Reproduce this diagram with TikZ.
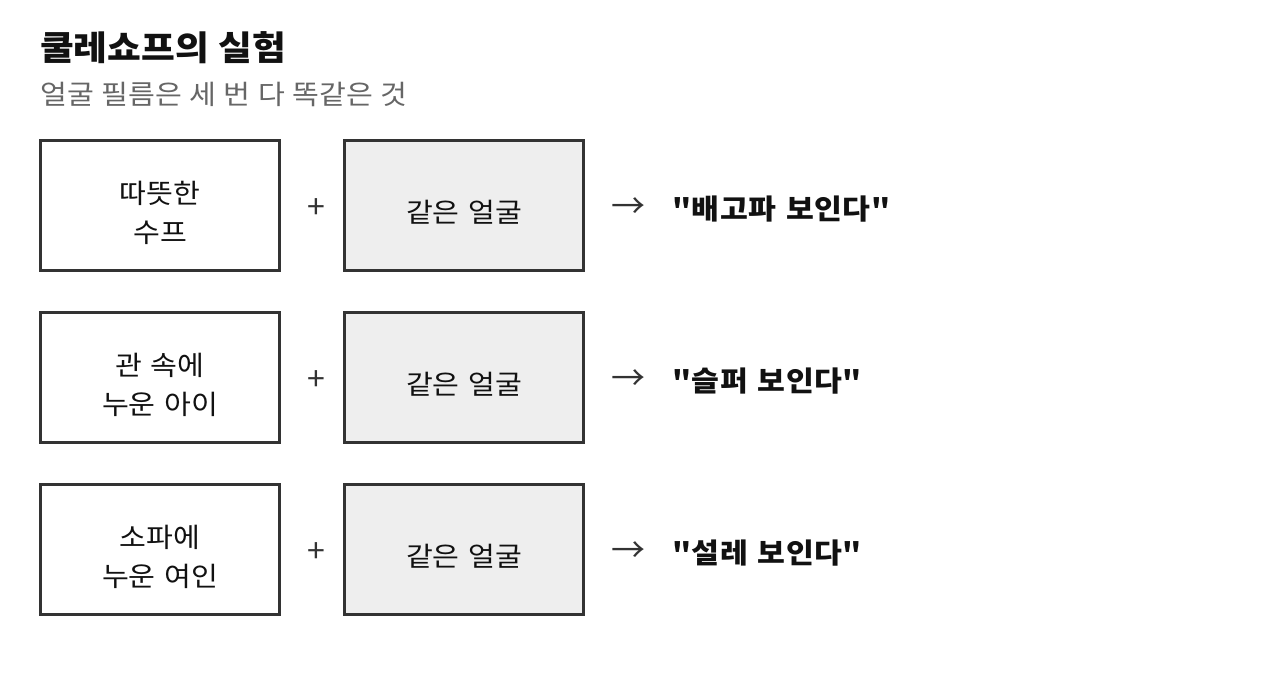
\documentclass[tikz,border=0pt]{standalone}
\usepackage{fontspec}
\setmainfont{Noto Sans CJK KR}
\newfontfamily\kr[FakeStretch=1.08,WordSpace=1.4]{Noto Sans CJK KR}
\newfontfamily\krsub[FakeStretch=1.08,WordSpace=1.15]{Noto Sans CJK KR}
\newfontfamily\krwide[FakeStretch=1.08,LetterSpace=2,WordSpace=1.3]{Noto Sans CJK KR}
\newfontfamily\krplain{Noto Sans CJK KR}
\definecolor{boxline}{HTML}{333333}
\definecolor{facefill}{HTML}{EEEEEE}
\definecolor{subgray}{HTML}{666666}
\definecolor{ink}{HTML}{111111}
\begin{document}
\begin{tikzpicture}[x=1pt,y=-1pt,
  cardbox/.style={draw=boxline,line width=3pt,minimum width=239pt,minimum height=130pt,inner sep=0pt},
  scenebox/.style={cardbox,fill=white},
  facebox/.style={cardbox,fill=facefill},
  boxtext/.style={align=center,inner sep=0pt,font=\kr\fontsize{27}{39}\selectfont,text=ink},
  plus/.style={font=\krplain\fontsize{32}{34}\selectfont,text=boxline},
  arrowsign/.style={font=\krplain\fontsize{34}{36}\selectfont,text=boxline},
  result/.style={anchor=west,inner sep=0pt,font=\krwide\bfseries\fontsize{28}{30}\selectfont,text=ink}]
\useasboundingbox[fill=white] (0,0) rectangle (1280,680);
\node[anchor=base west,inner sep=0pt,font=\kr\bfseries\fontsize{34}{36}\selectfont,text=ink] (title) at (40,60) {쿨레쇼프의 실험};
\node[anchor=base west,inner sep=0pt,font=\krsub\fontsize{27}{30}\selectfont,text=subgray] (sub) at (40,104) {얼굴 필름은 세 번 다 똑같은 것};
\foreach \i/\y/\scene/\res in {1/205.5/{따뜻한\\수프}/{"배고파 보인다"},2/377.5/{관 속에\\누운 아이}/{"슬퍼 보인다"},3/549.5/{소파에\\누운 여인}/{"설레 보인다"}}{
  \node[scenebox] (s\i) at (160,\y) {};
  \node[boxtext] (st\i) at ([yshift=-7pt]s\i.center) {\scene};
  \node[plus] (p\i) at ([yshift=-3pt]316,\y) {+};
  \node[facebox] (f\i) at (464,\y) {};
  \node[boxtext] (ft\i) at ([yshift=-7pt]f\i.center) {같은 얼굴};
  \node[arrowsign] (a\i) at ([yshift=-3pt]628,\y) {→};
  \node[result] (r\i) at ([yshift=-4pt]672,\y) {\res};
}
\end{tikzpicture}
\end{document}
